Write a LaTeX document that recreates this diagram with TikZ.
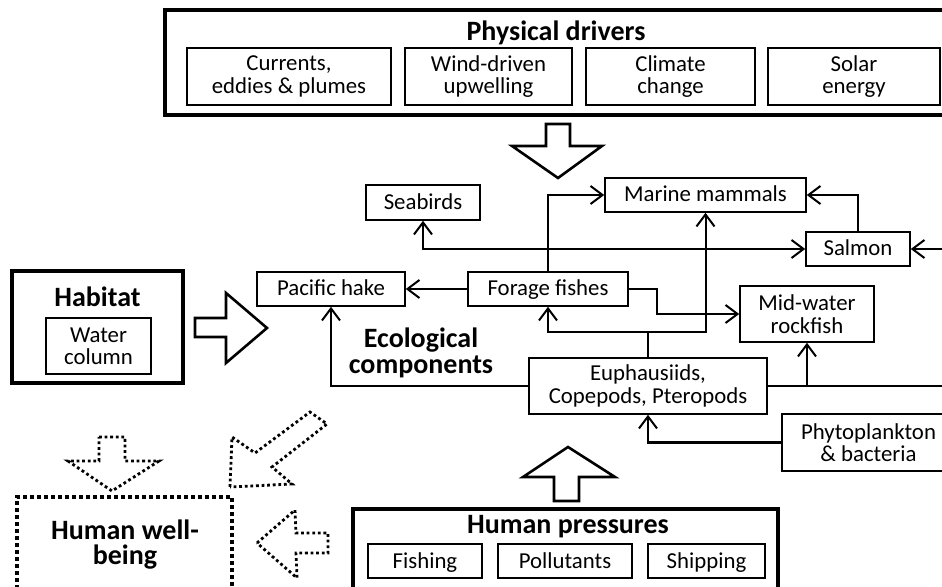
\documentclass[tikz,border=0pt]{standalone}
\usepackage{fontspec}
\setmainfont{Carlito}
\usetikzlibrary{arrows.meta}

\tikzset{
  unit/.style={draw, line width=0.8pt, align=center, inner sep=0pt,
    font=\fontsize{11.4}{11.2}\selectfont},
  oneline/.style={text height=9pt, text depth=2pt},
  frame/.style={draw, line width=2pt, inner sep=0pt},
  heading/.style={align=center, inner sep=0pt, font=\fontsize{14}{13}\selectfont\bfseries},
  link/.style={line width=1pt, -{Straight Barb[length=6pt,width=9pt]}},
  wire/.style={line width=1pt},
  bigarrow/.style={line width=1.3pt, line join=miter},
  dotarrow/.style={line width=1.4pt, dash pattern=on 1.4pt off 1.4pt},
}

\begin{document}
\begin{tikzpicture}[x=0.5pt, y=-0.5pt]
  \useasboundingbox (0,0) rectangle (942,587);
  \clip (0,0) rectangle (942,587);

  % physical drivers
  \node[frame, minimum width=392.5pt, minimum height=52.5pt] (drivers) at (557.5,62.5) {};
  \node[heading] (driverstitle) at (556,33) {Physical drivers};
  \node[unit, minimum width=102pt, minimum height=28.5pt] (currents) at (289,76.5) {Currents,\\eddies \& plumes};
  \node[unit, minimum width=83.5pt, minimum height=28.5pt] (wind) at (488.5,76.5) {Wind-driven\\upwelling};
  \node[unit, minimum width=84.5pt, minimum height=28.5pt] (climate) at (670.5,76.5) {Climate\\change};
  \node[unit, minimum width=86pt, minimum height=28.5pt] (solar) at (854,76.5) {Solar\\energy};

  % habitat
  \node[frame, minimum width=85.5pt, minimum height=56pt] (habitat) at (97.5,327) {};
  \node[heading] (habitattitle) at (97.5,297) {Habitat};
  \node[unit, minimum width=52.5pt, minimum height=28pt] (water) at (98.5,346) {Water\\column};

  % ecological components
  \node[heading] (ecotitle) at (421,353) {Ecological\\components};
  \node[unit, oneline, minimum width=57pt, minimum height=17.5pt] (seabirds) at (423,202.5) {Seabirds};
  \node[unit, oneline, minimum width=100.5pt, minimum height=17pt] (mammals) at (705.5,195) {Marine mammals};
  \node[unit, oneline, minimum width=52pt, minimum height=17pt] (salmon) at (858,249) {Salmon};
  \node[unit, oneline, minimum width=74pt, minimum height=17pt] (hake) at (331,289) {Pacific hake};
  \node[unit, oneline, minimum width=80pt, minimum height=17pt] (forage) at (548,289) {Forage fishes};
  \node[unit, minimum width=67pt, minimum height=28pt] (rockfish) at (807,314) {Mid-water\\rockfish};
  \node[unit, minimum width=119pt, minimum height=28pt] (euph) at (648,386) {Euphausiids,\\Copepods, Pteropods};
  \node[unit, minimum width=86.5pt, minimum height=28.5pt] (phyto) at (868.5,442.5) {Phytoplankton\\\& bacteria};

  % human pressures
  \node[frame, minimum width=212.5pt, minimum height=41.5pt] (pressures) at (565.5,550.5) {};
  \node[heading] (pressurestitle) at (568,527) {Human pressures};
  \node[unit, oneline, minimum width=57pt, minimum height=17pt] (fishing) at (425,561) {Fishing};
  \node[unit, oneline, minimum width=67pt, minimum height=17pt] (pollutants) at (565,561) {Pollutants};
  \node[unit, oneline, minimum width=58.5pt, minimum height=17pt] (shipping) at (706.5,561) {Shipping};

  % human well-being
  \node[frame, dash pattern=on 2pt off 1.5pt, minimum width=107.5pt, minimum height=49pt] (wellbeing) at (124.5,546) {};
  \node[heading, font=\fontsize{14}{12.5}\selectfont\bfseries] (wellbeingtitle) at (125,544.5) {Human well-\\being};

  % food web links
  \coordinate (split) at (648,332);
  \coordinate (rin) at (950,249);
  \coordinate (rout) at (950,386);
  \draw[link] (forage) -- (hake);
  \draw[link] (forage.north) |- (mammals.west);
  \draw[link] (forage.north |- salmon.west) -| (seabirds.south);
  \draw[link] (forage.north |- salmon.west) -- (salmon.west);
  \draw[link] (salmon.north) |- (mammals.east);
  \draw[link] (rin) -- (salmon.east);
  \draw[link] (forage.east) -- (657,289) |- (rockfish.west);
  \draw[link] (euph.north) -- (split) -| (forage.south);
  \draw[link] (split) -| (mammals.south);
  \draw[link] (euph.west) -| (hake.south);
  \draw[link] (euph.east) -| (rockfish.south);
  \draw[wire] (euph.east) -- (rout);
  \draw[link] (phyto.west) -| (euph.south);

  % block arrows
  \draw[bigarrow] (546,124) -- (570,124) -- (570,146) -- (602,146) -- (558,178) -- (512,146) -- (546,146) -- cycle;
  \draw[bigarrow] (195,318) -- (226,318) -- (226,293) -- (267,328) -- (226,363) -- (226,337) -- (195,337) -- cycle;
  \draw[bigarrow] (554,501) -- (579,501) -- (579,477) -- (615,477) -- (568,447) -- (523,477) -- (554,477) -- cycle;
  \draw[dotarrow] (99,437) -- (125,437) -- (125,461) -- (159,461) -- (112,491) -- (68,461) -- (99,461) -- cycle;
  \draw[dotarrow] (230,487) -- (232,437) -- (255,453) -- (310,412) -- (327,424) -- (272,467) -- (292,484) -- cycle;
  \draw[dotarrow] (257,543) -- (295,510) -- (296,533) -- (328,533) -- (328,553) -- (296,553) -- (297,578) -- cycle;
\end{tikzpicture}
\end{document}
